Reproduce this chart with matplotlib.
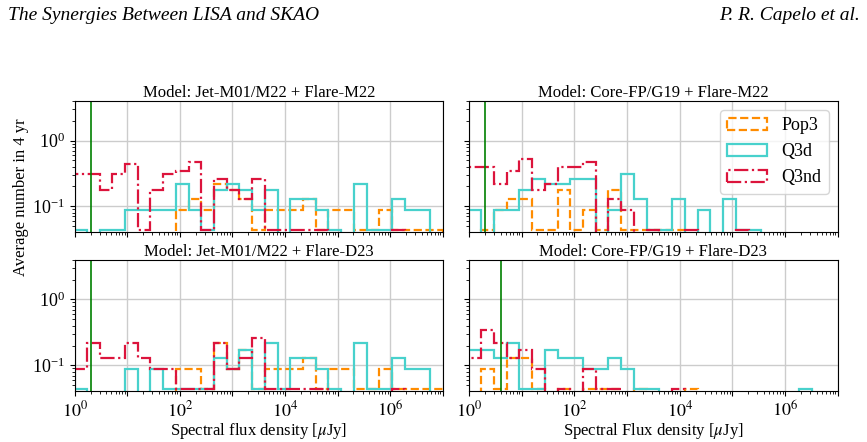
import numpy as np
import matplotlib
matplotlib.use('Agg')
import matplotlib.pyplot as plt
from matplotlib.ticker import LogLocator, FuncFormatter, NullFormatter

plt.rcParams['font.family'] = ['Liberation Serif', 'DejaVu Serif']
plt.rcParams['mathtext.fontset'] = 'stix'

# bins in log10(flux / muJy), same for every panel
log_edges = np.linspace(-0.01, 7.0, 30)
unit = 0.0435  # one event, average per 4 yr

# counts per bin (in units of `unit`)
tl_pop3 = [0, 0, 0, 0, 0, 0, 0, 0, 2, 3, 2, 5, 4, 3, 1, 2, 2, 2, 3, 1, 2, 2, 1, 1, 2, 1, 1, 1, 1]
tl_q3d = [1, 0, 1, 1, 2, 2, 2, 2, 5, 2, 1, 4, 5, 4, 2, 4, 0, 3, 3, 2, 1, 0, 5, 1, 1, 3, 2, 2, 0]
tl_q3nd = [7, 7, 4, 7, 10, 1, 4, 7, 8, 11, 1, 6, 4, 3, 6, 1, 1, 1, 1, 1, 0, 0, 0, 0, 0, 1, 0, 0, 0]

tr_pop3 = [0, 1, 2, 3, 3, 1, 1, 4, 1, 2, 1, 4, 1, 1, 1, 1, 1, 0, 0, 0, 0, 0, 0, 0, 0, 0, 0, 0, 0]
tr_q3d = [2, 0, 2, 2, 4, 6, 5, 5, 6, 6, 0, 2, 7, 3, 1, 1, 3, 0, 2, 0, 3, 1, 1, 0, 0, 0, 0, 0, 0]
tr_q3nd = [9, 9, 5, 8, 12, 4, 5, 9, 9, 11, 0, 3, 2, 0, 1, 0, 0, 1, 0, 0, 0, 1, 0, 0, 0, 0, 0, 0, 0]

bl_pop3 = [0, 0, 0, 0, 0, 0, 0, 0, 2, 2, 1, 5, 2, 4, 1, 2, 2, 2, 3, 1, 2, 2, 1, 1, 2, 1, 1, 1, 1]
bl_q3d = [1, 0, 0, 0, 2, 0, 2, 1, 1, 1, 1, 3, 2, 4, 1, 5, 1, 3, 3, 2, 1, 0, 5, 1, 1, 3, 2, 2, 0]
bl_q3nd = [2, 5, 3, 3, 5, 3, 2, 2, 1, 1, 1, 5, 2, 3, 6, 1, 1, 1, 1, 1, 0, 0, 0, 0, 0, 1, 0, 0, 0]

br_pop3 = [0, 2, 1, 3, 3, 1, 0, 1, 0, 1, 1, 1, 0, 1, 0, 0, 0, 1, 0, 0, 0, 0, 0, 0, 0, 0, 0, 0, 0]
br_q3d = [4, 4, 3, 5, 1, 1, 4, 3, 3, 2, 2, 3, 2, 1, 1, 0, 0, 0, 0, 0, 0, 0, 0, 0, 0, 0, 1, 0, 0]
br_q3nd = [3, 8, 5, 3, 4, 2, 0, 1, 0, 2, 1, 1, 0, 0, 0, 0, 1, 0, 0, 0, 0, 0, 0, 0, 0, 0, 0, 0, 0]

titles = ['Model: Jet-M01/M22 + Flare-M22', 'Model: Core-FP/G19 + Flare-M22',
          'Model: Jet-M01/M22 + Flare-D23', 'Model: Core-FP/G19 + Flare-D23']
thresholds = [2.0, 2.0, 2.0, 4.0]  # green vertical lines, muJy
xlabels = [None, None, r'Spectral flux density [$\mu$Jy]', r'Spectral Flux density [$\mu$Jy]']

panels = [(tl_pop3, tl_q3d, tl_q3nd), (tr_pop3, tr_q3d, tr_q3nd),
          (bl_pop3, bl_q3d, bl_q3nd), (br_pop3, br_q3d, br_q3nd)]
names = ['Pop3', 'Q3d', 'Q3nd']
colors = ['darkorange', 'mediumturquoise', 'crimson']
styles = ['--', '-', '-.']

positions = [[0.0862, 0.4758, 0.4245, 0.2957], [0.5409, 0.4758, 0.4253, 0.2957],
             [0.0862, 0.1154, 0.4245, 0.2970], [0.5409, 0.1154, 0.4253, 0.2970]]

edges = 10 ** log_edges
centers = 10 ** (0.5 * (log_edges[:-1] + log_edges[1:]))

fig = plt.figure(figsize=(8.67, 4.42), dpi=100)


def even_only(v, pos):
    e = int(round(np.log10(v)))
    if e % 2 == 0:
        return r'$10^{%d}$' % e
    return ''


for i in range(4):
    ax = fig.add_axes(positions[i])
    for vals, name, c, ls in zip(panels[i], names, colors, styles):
        w = np.array(vals) * unit
        ax.hist(centers, bins=edges, weights=w, histtype='step', log=True,
                color=c, ls=ls, lw=1.6, label=name)
    ax.axvline(thresholds[i], color='green', lw=1.2)
    ax.set_xscale('log')
    ax.set_yscale('log', nonpositive='clip')
    ax.set_xlim(1, 1e7)
    ax.set_ylim(0.041, 4.0)
    ax.xaxis.set_major_locator(LogLocator(base=10, numticks=20))
    ax.xaxis.set_minor_locator(LogLocator(base=10, subs=np.arange(2, 10), numticks=20))
    ax.xaxis.set_minor_formatter(NullFormatter())
    ax.grid(True, which='major', color='#cccccc', lw=1)
    ax.set_axisbelow(True)
    ax.set_title(titles[i], fontsize=12, pad=3)
    ax.tick_params(labelsize=13)
    if i < 2:
        ax.set_xticklabels([])
    else:
        ax.xaxis.set_major_formatter(FuncFormatter(even_only))
        ax.set_xlabel(xlabels[i], fontsize=12, labelpad=0)
    if i % 2 == 1:
        ax.set_yticklabels([])
    if i == 1:
        ax.legend(loc='upper right', fontsize=13, handlelength=2.2)

fig.text(0.024, 0.555, 'Average number in 4 yr', rotation=90, va='center', ha='center', fontsize=12)
fig.text(0.009, 0.966, 'The Synergies Between LISA and SKAO', style='italic', fontsize=14, va='center')
fig.text(0.992, 0.966, 'P. R. Capelo et al.', style='italic', fontsize=14, va='center', ha='right')

fig.savefig('out.png', dpi=100)
